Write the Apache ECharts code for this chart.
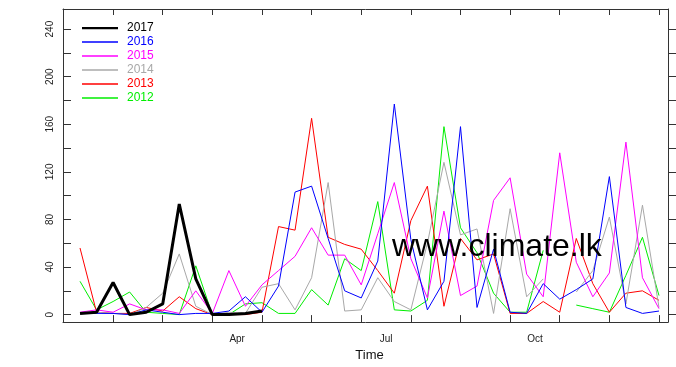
<!DOCTYPE html>
<html>
<head>
<meta charset="utf-8">
<script src="https://cdn.jsdelivr.net/npm/echarts@6/dist/echarts.min.js"></script>
<style>
html,body{margin:0;padding:0;background:#fff;}
#chart{width:676px;height:367px;}
</style>
</head>
<body>
<div id="chart"></div>
<script>
// Dekads of the year (3 per month), x position = index
var dekads = ['Jan-1','Jan-2','Jan-3','Feb-1','Feb-2','Feb-3','Mar-1','Mar-2','Mar-3','Apr-1','Apr-2','Apr-3',
  'May-1','May-2','May-3','Jun-1','Jun-2','Jun-3','Jul-1','Jul-2','Jul-3','Aug-1','Aug-2','Aug-3',
  'Sep-1','Sep-2','Sep-3','Oct-1','Oct-2','Oct-3','Nov-1','Nov-2','Nov-3','Dec-1','Dec-2','Dec-3'];

var years = ['2017','2016','2015','2014','2013','2012'];
var colors = {'2017':'#000000','2016':'#0000ff','2015':'#ff00ff','2014':'#a8a8a8','2013':'#ff0000','2012':'#00ee00'};

var rain2017 = [1,2,27,0,2,9,93,30,0,0,1,3];
var rain2016 = [1,1,1,0,4,2,0,1,1,3,15,2,24,103,108,64,20,14,45,177,63,4,28,158,6,55,2,1,26,13,21,30,116,6,1,3];
var rain2015 = [2,4,2,9,4,4,1,20,1,37,7,25,37,49,73,50,50,25,68,111,47,14,87,16,24,96,115,34,15,136,44,15,35,145,31,5];
var rain2014 = [1,2,1,0,6,18,51,7,0,2,1,23,26,4,31,111,3,4,31,11,4,60,128,67,72,1,89,15,30,null,19,37,82,9,92,6];
var rain2013 = [56,2,1,1,6,3,15,5,0,0,0,2,74,71,165,65,59,55,37,18,79,108,7,64,46,51,1,1,11,2,64,26,2,18,20,12];
var rain2012 = [28,4,11,19,2,1,0,41,0,0,9,10,1,1,21,8,47,37,95,4,3,12,158,73,52,18,2,2,54,null,8,5,2,33,65,16];

var tickDekads = [2,5,8,11,14,17,20,23,26,29,32,35];
var monthLabelPos = [9.5,18.5,27.5];
var monthLabels = ['Apr','Jul','Oct'];
var yTicks = [0,20,40,60,80,100,120,140,160,180,200,220,240];
var yLabels = [0,40,80,120,160,200,240];

var rainByYear = {'2017':rain2017,'2016':rain2016,'2015':rain2015,'2014':rain2014,'2013':rain2013,'2012':rain2012};

var xMin = -1.028, xMax = 35.544, yMin = -6.3, yMax = 256.9;
var font = 'Liberation Sans, Arial, Helvetica, sans-serif';
var axisColor = '#333';

function toPairs(arr){
  return arr.map(function(v,i){ return [i, v]; });
}

var drawOrder = ['2012','2013','2014','2015','2016','2017'];
var series = drawOrder.map(function(y){
  return {
    name: y,
    type: 'line',
    data: toPairs(rainByYear[y]),
    symbol: 'none',
    connectNulls: false,
    animation: false,
    lineStyle: {color: colors[y], width: y === '2017' ? 3 : 1},
    itemStyle: {color: colors[y]},
    xAxisIndex: 0,
    yAxisIndex: 0
  };
});

var thinIcon = 'path://M0,0H24V1H0Z';
var thickIcon = 'path://M0,0H16V1H0Z';

var chart = echarts.init(document.getElementById('chart'), null, {renderer:'canvas'});
chart.setOption({
  backgroundColor: '#ffffff',
  animation: false,
  textStyle: {fontFamily: font},
  grid: {left: 63, right: 8, top: 9, bottom: 35, containLabel: false},
  legend: {
    orient: 'vertical',
    left: 77, top: 16,
    itemWidth: 36, itemHeight: 14, itemGap: 0,
    symbolKeepAspect: true,
    data: years.map(function(y){
      return {name: y, icon: y === '2017' ? thickIcon : thinIcon,
        itemStyle: {color: colors[y], borderWidth: 0},
        textStyle: {color: colors[y]}};
    }),
    textStyle: {fontFamily: font, fontSize: 12, padding: [0,0,0,4], lineHeight: 14, height: 14},
    selectedMode: false
  },
  xAxis: [{
    type: 'value', position: 'bottom', min: xMin, max: xMax,
    name: 'Time', nameLocation: 'middle', nameGap: 22,
    nameTextStyle: {fontFamily: font, fontSize: 13, color: '#111', padding: [0,0,0,8]},
    splitLine: {show: false},
    axisLine: {show: true, onZero: false, lineStyle: {color: axisColor, width: 1}},
    axisTick: {show: true, inside: true, length: 7, customValues: tickDekads, lineStyle: {color: axisColor}},
    axisLabel: {show: true, margin: 12, fontSize: 10, color: '#222', fontFamily: font,
      customValues: monthLabelPos,
      formatter: function(v){ var k = monthLabelPos.indexOf(v); return k >= 0 ? monthLabels[k] : ''; }}
  }, {
    type: 'value', position: 'top', min: xMin, max: xMax,
    splitLine: {show: false},
    axisLine: {show: true, onZero: false, lineStyle: {color: axisColor, width: 1}},
    axisTick: {show: true, inside: true, length: 6, customValues: tickDekads, lineStyle: {color: axisColor}},
    axisLabel: {show: false}
  }],
  yAxis: [{
    type: 'value', position: 'left', min: yMin, max: yMax,
    splitLine: {show: false},
    axisLine: {show: true, onZero: false, lineStyle: {color: axisColor, width: 1}},
    axisTick: {show: true, inside: true, length: 8, customValues: yTicks, lineStyle: {color: axisColor}},
    axisLabel: {show: true, rotate: 90, margin: 8, fontSize: 10, color: '#222', fontFamily: font,
      customValues: yLabels}
  }, {
    type: 'value', position: 'right', min: yMin, max: yMax,
    splitLine: {show: false},
    axisLine: {show: true, onZero: false, lineStyle: {color: axisColor, width: 1}},
    axisTick: {show: true, inside: false, length: 8, customValues: yTicks, lineStyle: {color: axisColor}},
    axisLabel: {show: false}
  }],
  graphic: [{
    type: 'text', left: 392, top: 231, z: 100,
    style: {text: 'www.climate.lk', font: '32px ' + font, fill: '#000'}
  }],
  series: series
});
</script>
</body>
</html>
